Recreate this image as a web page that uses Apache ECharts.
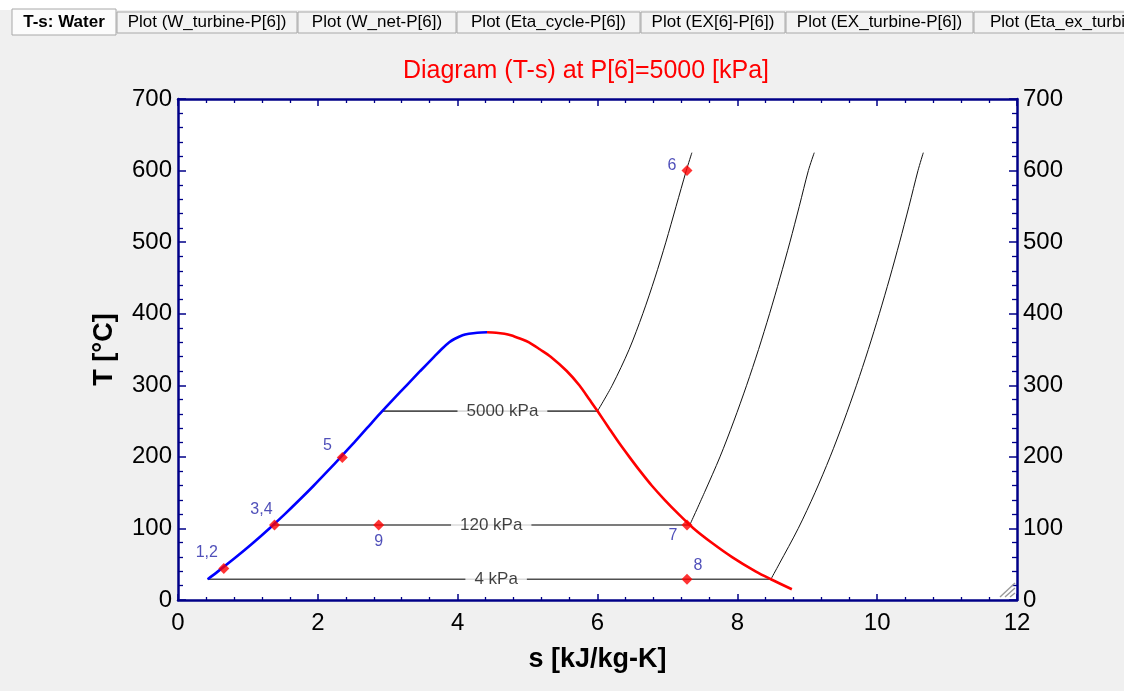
<!DOCTYPE html>
<html>
<head>
<meta charset="utf-8">
<script src="https://cdn.jsdelivr.net/npm/echarts@6/dist/echarts.min.js"></script>
<style>
  html, body { margin: 0; padding: 0; background: #f0f0f0; }
  #chart { width: 1124px; height: 691px; }
</style>
</head>
<body>
<div id="chart"></div>
<script>
// Saturated liquid line (s in kJ/kg-K, T in °C), up to the critical point
const liqS = [0.424, 0.572, 0.831, 1.076, 1.307, 1.528, 1.739, 1.943, 2.139, 2.331, 2.518, 2.702, 2.885, 3.075, 3.27, 3.465, 3.665, 3.765, 3.88, 3.96, 4.07, 4.16, 4.28, 4.42];
const liqT = [29, 40, 60, 80, 100, 120, 140, 160, 180, 200, 220, 240, 260, 280, 300, 320, 340, 350, 360, 365, 370, 372, 373.5, 374];

// Saturated vapour line, from the critical point down
const vapS = [4.42, 4.55, 4.67, 4.76, 4.90, 5.02, 5.18, 5.33, 5.56, 5.74, 5.885, 6.0, 6.165, 6.305, 6.455, 6.61, 6.775, 6.96, 7.16, 7.375, 7.635, 7.925, 8.26, 8.48, 8.78];
const vapT = [374, 373.5, 372, 370, 365, 360, 350, 340, 320, 300, 280, 264, 240, 220, 200, 180, 160, 140, 120, 100, 80, 60, 40, 29, 15];

// Isobars: names, saturation temperature, two-phase end points, label anchor
const isobarNames = ['5000 kPa', '120 kPa', '4 kPa'];
const isobarTsat = [263.9, 104.8, 29.0];
const isobarSf = [2.92, 1.36, 0.424];
const isobarSg = [6.0, 7.32, 8.48];
const isobarLabelS = [4.64, 4.48, 4.55];

// Superheated branches of the isobars
const sup5000S = [6.0, 6.211, 6.452, 6.648, 6.821, 6.978, 7.124, 7.27, 7.35];
const sup5000T = [263.9, 300, 350, 400, 450, 500, 550, 600, 625];
const sup120S = [7.32, 7.529, 7.752, 7.950, 8.133, 8.303, 8.461, 8.610, 8.752, 8.886, 9.016, 9.10];
const sup120T = [104.8, 150, 200, 250, 300, 350, 400, 450, 500, 550, 600, 625];
const sup4S = [8.48, 8.597, 8.871, 9.111, 9.327, 9.523, 9.704, 9.873, 10.031, 10.180, 10.321, 10.455, 10.584, 10.66];
const sup4T = [29, 50, 100, 150, 200, 250, 300, 350, 400, 450, 500, 550, 600, 625];

// Cycle state points
const stateNames = ['1,2', '3,4', '5', '6', '7', '8', '9'];
const stateS = [0.655, 1.38, 2.35, 7.28, 7.28, 7.28, 2.87];
const stateT = [44, 104.8, 199, 600, 104.8, 29, 104.8];

// Axis ticks
const sTicks = [0, 2, 4, 6, 8, 10, 12];
const tTicks = [0, 100, 200, 300, 400, 500, 600, 700];

// Tab strip captions
const tabTitles = ['T-s: Water', 'Plot (W_turbine-P[6])', 'Plot (W_net-P[6])', 'Plot (Eta_cycle-P[6])',
  'Plot (EX[6]-P[6])', 'Plot (EX_turbine-P[6])', 'Plot (Eta_ex_turbine-P[6])'];

const zip = (a, b) => a.map((v, i) => [v, b[i]]);

// label placement for each state point (style only)
const stateLabelStyle = {
  '1,2': { position: 'top', distance: 2, offset: [-17, 0] },
  '3,4': { position: 'top', distance: 2, offset: [-13, 0] },
  '5': { position: 'left', distance: 5, offset: [0, -12] },
  '6': { position: 'left', distance: 5, offset: [0, -5] },
  '7': { position: 'bottom', distance: 0, offset: [-14, -3] },
  '8': { position: 'top', distance: 0, offset: [11, 0] },
  '9': { position: 'bottom', distance: 3, offset: [0, 0] }
};

const chart = echarts.init(document.getElementById('chart'), null, { renderer: 'canvas' });

const AXIS_COLOR = '#000088';
const FONT = 'Liberation Sans, Arial, sans-serif';

// tab strip layout
const tabEdges = [[12, 116], [117, 297], [298, 456], [457, 640], [641, 785], [786, 973], [974, 1160]];
const tabGraphics = [{
  type: 'rect', shape: { x: 0, y: 0, width: 1124, height: 10 }, style: { fill: '#ffffff' }, z: 1
}];
tabTitles.forEach((t, i) => {
  const [x0, x1] = tabEdges[i];
  const active = i === 0;
  const last = i === tabTitles.length - 1;
  tabGraphics.push({
    type: 'rect',
    shape: { x: x0, y: active ? 9 : 12, width: x1 - x0, height: active ? 26 : 21 },
    style: { fill: active ? '#fcfcfc' : '#f3f3f3', stroke: '#a8a8a8', lineWidth: 1 },
    z: active ? 3 : 2
  });
  tabGraphics.push({
    type: 'text',
    x: last ? x0 + 16 : (x0 + x1) / 2, y: 22,
    style: {
      text: t, fill: '#000', font: (active ? 'bold ' : '') + '17px ' + FONT,
      textAlign: last ? 'left' : 'center', textVerticalAlign: 'middle'
    },
    z: 4
  });
});
// resize grip in the corner of the plot
[0, 1, 2].forEach(k => {
  tabGraphics.push({
    type: 'line',
    shape: { x1: 1000 + k * 5, y1: 597, x2: 1015, y2: 583 + k * 5 },
    style: { stroke: '#9a9a9a', lineWidth: 1.4 },
    z: 10
  });
});

const lineSeries = (name, data, color, width, z) => ({
  name, type: 'line', data, showSymbol: false, symbol: 'none',
  smooth: 0.3,
  lineStyle: { color, width }, z, silent: true, animation: false
});

const series = [];
series.push(lineSeries('liquid', zip(liqS, liqT), '#0000ff', 2.6, 4));
series.push(lineSeries('vapour', zip(vapS, vapT), '#ff0000', 2.6, 4));
isobarNames.forEach((n, i) => {
  series.push({
    name: n + ' dome', type: 'line', showSymbol: false, symbol: 'none',
    data: [[isobarSf[i], isobarTsat[i]], [isobarSg[i], isobarTsat[i]]],
    lineStyle: { color: '#505050', width: 1.6 }, z: 2, animation: false
  });
});
series.push(lineSeries('5000 kPa sup', zip(sup5000S, sup5000T), '#111111', 1, 3));
series.push(lineSeries('120 kPa sup', zip(sup120S, sup120T), '#111111', 1, 3));
series.push(lineSeries('4 kPa sup', zip(sup4S, sup4T), '#111111', 1, 3));

// isobar captions with a white box that breaks the line
series.push({
  name: 'isobar labels', type: 'scatter', symbolSize: 0, z: 6, animation: false,
  data: isobarNames.map((n, i) => ({ value: [isobarLabelS[i], isobarTsat[i]], name: n })),
  label: {
    show: true, position: 'inside', formatter: p => p.name,
    color: '#111111', fontSize: 17, fontFamily: FONT,
    backgroundColor: '#ffffff', padding: [1, 9]
  }
});

// state points
series.push({
  name: 'states', type: 'scatter', symbol: 'diamond', symbolSize: 11, z: 8, animation: false,
  itemStyle: { color: '#ff0000' },
  data: stateNames.map((n, i) => ({
    value: [stateS[i], stateT[i]], name: n,
    label: Object.assign({ show: true, formatter: n }, stateLabelStyle[n])
  })),
  label: { color: '#2323a8', fontSize: 16, fontFamily: FONT }
});

const commonAxis = {
  axisLine: { show: true, onZero: false, lineStyle: { color: AXIS_COLOR, width: 2.5 } },
  splitLine: { show: false },
  minorSplitLine: { show: false }
};

const option = {
  backgroundColor: '#f0f0f0',
  animation: false,
  title: {
    text: 'Diagram (T-s) at P[6]=5000 [kPa]',
    left: 586, top: 59, textAlign: 'center', padding: 0,
    textStyle: { color: '#ff0000', fontSize: 25, fontWeight: 'normal', fontFamily: FONT }
  },
  graphic: tabGraphics,
  grid: {
    left: 178, right: 107, top: 99, bottom: 91,
    show: true, backgroundColor: '#ffffff', borderWidth: 0
  },
  xAxis: [
    Object.assign({}, commonAxis, {
      type: 'value', min: sTicks[0], max: sTicks[sTicks.length - 1], interval: 2, position: 'bottom',
      name: 's [kJ/kg-K]', nameLocation: 'middle', nameGap: 46,
      nameTextStyle: { color: '#000', fontSize: 27, fontWeight: 'bold', fontFamily: FONT },
      axisTick: { show: true, inside: true, length: 6, lineStyle: { color: AXIS_COLOR, width: 1.5 } },
      minorTick: { show: true, splitNumber: 5, length: 3, lineStyle: { color: AXIS_COLOR, width: 1.3 } },
      axisLabel: { color: '#000', fontSize: 24, fontFamily: FONT, margin: 11 }
    }),
    Object.assign({}, commonAxis, {
      type: 'value', min: sTicks[0], max: sTicks[sTicks.length - 1], interval: 2, position: 'top',
      axisTick: { show: true, inside: true, length: 7, lineStyle: { color: AXIS_COLOR, width: 1.5 } },
      minorTick: { show: true, splitNumber: 5, length: 4, lineStyle: { color: AXIS_COLOR, width: 1.3 } },
      axisLabel: { show: false }
    })
  ],
  yAxis: [
    Object.assign({}, commonAxis, {
      type: 'value', min: tTicks[0], max: tTicks[tTicks.length - 1], interval: 100, position: 'left',
      name: 'T [°C]', nameLocation: 'middle', nameGap: 60, nameRotate: 90,
      nameTextStyle: { color: '#000', fontSize: 27, fontWeight: 'bold', fontFamily: FONT },
      axisTick: { show: true, inside: true, length: 8, lineStyle: { color: AXIS_COLOR, width: 1.5 } },
      minorTick: { show: true, splitNumber: 5, length: 5, lineStyle: { color: AXIS_COLOR, width: 1.3 } },
      axisLabel: { color: '#000', fontSize: 24, fontFamily: FONT, margin: 6 }
    }),
    Object.assign({}, commonAxis, {
      type: 'value', min: tTicks[0], max: tTicks[tTicks.length - 1], interval: 100, position: 'right',
      axisTick: { show: true, inside: true, length: 8, lineStyle: { color: AXIS_COLOR, width: 1.5 } },
      minorTick: { show: true, splitNumber: 5, length: 5, lineStyle: { color: AXIS_COLOR, width: 1.3 } },
      axisLabel: { color: '#000', fontSize: 24, fontFamily: FONT, margin: 6 }
    })
  ],
  series
};

chart.setOption(option);
</script>
</body>
</html>
